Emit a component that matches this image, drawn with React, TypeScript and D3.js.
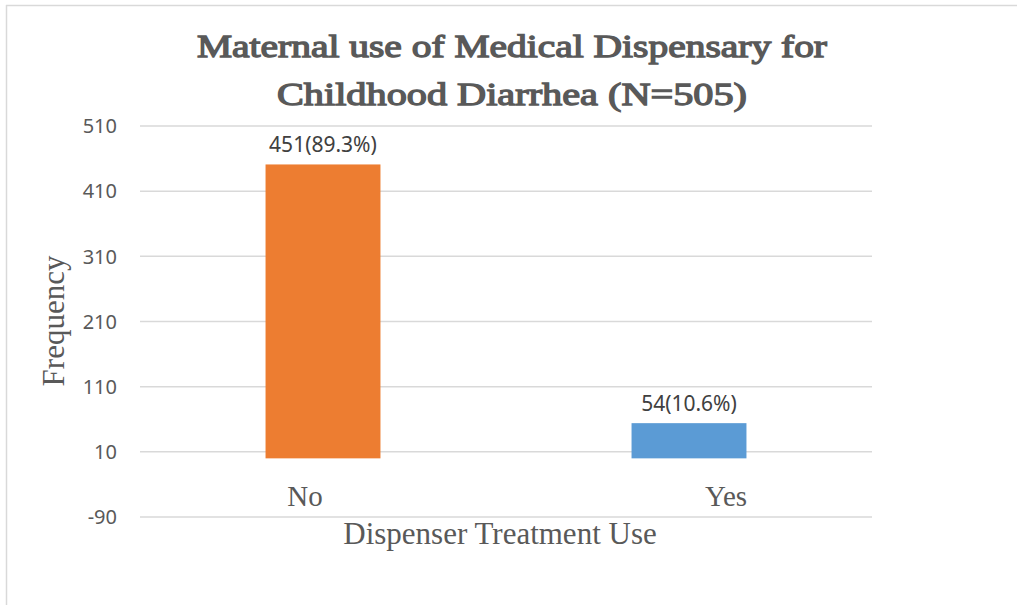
import React from "react";
import * as d3 from "d3";

const categories = ["No", "Yes"];
const values = [451, 54];
const labels = ["451(89.3%)", "54(10.6%)"];
const colors = ["#ED7D31", "#5B9BD5"];
const yTicks = [-90, 10, 110, 210, 310, 410, 510];
const titleLines = ["Maternal use of Medical Dispensary for", "Childhood Diarrhea (N=505)"];

const W = 1017;
const H = 605;
const plot = { left: 140, right: 872, top: 126, bottom: 517 };

export default function App() {
  const x = d3
    .scaleBand<string>()
    .domain(categories)
    .range([plot.left, plot.right])
    .paddingInner(0.686)
    .paddingOuter(0.343);
  const y = d3.scaleLinear().domain([-90, 510]).range([plot.bottom, plot.top]);
  const textColor = "#595959";
  const serif = "'Liberation Serif', 'Times New Roman', serif";
  const sans = "'Noto Sans', 'Open Sans', sans-serif";
  const catOffset = [-18, 37];
  return (
    <svg
      width={W}
      height={H}
      style={{ position: "absolute", left: 0, top: 0, background: "#fff" }}
    >
      <rect x={0} y={0} width={W} height={H} fill="#fff" />
      <line x1={6} y1={5.5} x2={W} y2={5.5} stroke="#D9D9D9" strokeWidth={1.5} />
      <line x1={6.5} y1={5} x2={6.5} y2={H} stroke="#D9D9D9" strokeWidth={1.5} />
      {titleLines.map((t, i) => (
        <text
          key={t}
          x={512}
          y={57 + i * 48}
          textAnchor="middle"
          fontFamily={serif}
          fontSize={32}
          fill={textColor}
          stroke={textColor}
          strokeWidth={1.3}
          textLength={i === 0 ? 630 : 470}
          lengthAdjust="spacingAndGlyphs"
        >
          {t}
        </text>
      ))}
      {yTicks.map((t) => (
        <g key={t}>
          <line
            x1={plot.left}
            x2={plot.right}
            y1={y(t)}
            y2={y(t)}
            stroke="#D9D9D9"
            strokeWidth={1.5}
          />
          <text
            x={117}
            y={y(t)}
            dy="0.36em"
            textAnchor="end"
            fontFamily={sans}
            fontSize={20}
            fill={textColor}
          >
            {t}
          </text>
        </g>
      ))}
      {categories.map((c, i) => (
        <g key={c}>
          <rect
            x={x(c)}
            width={x.bandwidth()}
            y={y(values[i])}
            height={y(0) - y(values[i])}
            fill={colors[i]}
          />
          <text
            x={(x(c) as number) + x.bandwidth() / 2}
            y={y(values[i]) - 12}
            textAnchor="middle"
            fontFamily={sans}
            fontSize={21}
            fill="#404040"
          >
            {labels[i]}
          </text>
          <text
            x={(x(c) as number) + x.bandwidth() / 2 + catOffset[i]}
            y={506}
            textAnchor="middle"
            fontFamily={serif}
            fontSize={29}
            fill={textColor}
          >
            {c}
          </text>
        </g>
      ))}
      <text
        x={500}
        y={544}
        textAnchor="middle"
        fontFamily={serif}
        fontSize={31}
        fill={textColor}
      >
        Dispenser Treatment Use
      </text>
      <text
        transform={`translate(64,321) rotate(-90)`}
        textAnchor="middle"
        fontFamily={serif}
        fontSize={31}
        fill={textColor}
      >
        Frequency
      </text>
    </svg>
  );
}
